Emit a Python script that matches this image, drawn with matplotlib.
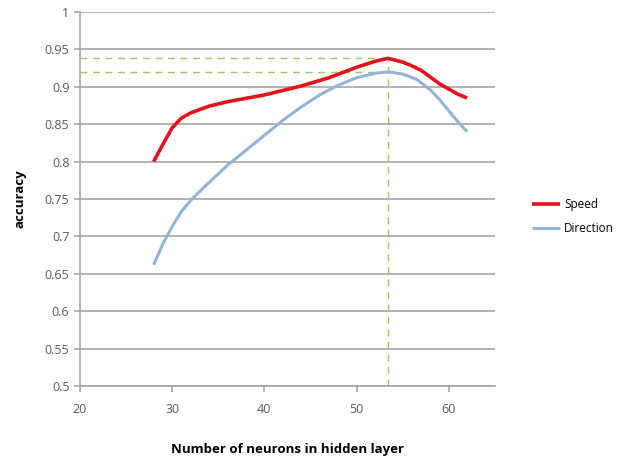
import matplotlib
matplotlib.use("Agg")
import matplotlib.pyplot as plt

plt.rcParams['font.family'] = ['Open Sans', 'DejaVu Sans']

# values
speed_x = [28, 29, 30, 31, 32, 34, 36, 40, 44, 47, 50, 52, 53.4, 55, 56, 57, 58, 59, 60, 61, 62]
speed_y = [0.800, 0.823, 0.845, 0.858, 0.865, 0.874, 0.880, 0.889, 0.901, 0.912, 0.926, 0.934, 0.938,
           0.933, 0.928, 0.922, 0.913, 0.904, 0.897, 0.890, 0.885]
dir_x = [28, 29, 30, 31, 32, 34, 36, 38, 40, 42, 44, 46, 48, 50, 52, 53.4, 55, 56.5, 58, 59, 60, 61, 62]
dir_y = [0.662, 0.690, 0.713, 0.733, 0.748, 0.772, 0.795, 0.815, 0.835, 0.855, 0.873, 0.889, 0.902,
         0.912, 0.918, 0.920, 0.917, 0.910, 0.896, 0.883, 0.868, 0.853, 0.840]
best_n = 53.4
best_speed = 0.938
best_dir = 0.920

x_ticks = [20, 30, 40, 50, 60]
y_ticks = [0.5, 0.55, 0.6, 0.65, 0.7, 0.75, 0.8, 0.85, 0.9, 0.95, 1]
y_labels = ['0.5', '0.55', '0.6', '0.65', '0.7', '0.75', '0.8', '0.85', '0.9', '0.95', '1']

fig = plt.figure(figsize=(6.24, 4.59), dpi=100)
ax = fig.add_axes([0.128, 0.159, 0.665, 0.815])

grey = '#A6A6A6'
for yv in y_ticks:
    ax.axhline(yv, color=grey, lw=1.2, zorder=1)

# green guide lines at the optimum
ax.plot([20, best_n], [best_speed, best_speed], color='#9BCB5A', lw=1, ls=(0, (5, 4)), zorder=2)
ax.plot([20, best_n], [best_dir, best_dir], color='#9BCB5A', lw=1, ls=(0, (5, 4)), zorder=2)
ax.plot([best_n, best_n], [0.5, best_speed], color='#9BCB5A', lw=1, ls=(0, (5, 4)), zorder=2)

ax.plot(speed_x, speed_y, color='#E3141B', lw=2.6, label='Speed', zorder=4, solid_capstyle='butt')
ax.plot(dir_x, dir_y, color='#95B3D7', lw=2.2, label='Direction', zorder=3, solid_capstyle='butt')

ax.set_xlim(20, 65)
ax.set_ylim(0.5, 1)
ax.set_xticks(x_ticks)
ax.set_yticks(y_ticks)
ax.set_yticklabels(y_labels)
ax.tick_params(colors=grey, labelcolor='#595959', labelsize=9, length=4, width=1.2)
ax.tick_params(axis='x', pad=8)
for s in ['top', 'right']:
    ax.spines[s].set_visible(False)
for s in ['left', 'bottom']:
    ax.spines[s].set_color(grey)
    ax.spines[s].set_linewidth(1.2)

ax.set_xlabel('Number of neurons in hidden layer', fontsize=9.5, fontweight='bold', labelpad=20)
ax.set_ylabel('accuracy', fontsize=9.5, fontweight='bold', labelpad=13)

fig.legend(loc='center left', bbox_to_anchor=(0.842, 0.528), frameon=False, fontsize=8.5,
           handlelength=2.3, handletextpad=0.4, labelspacing=0.9, borderaxespad=0.2)

fig.savefig('out.png', dpi=100)
